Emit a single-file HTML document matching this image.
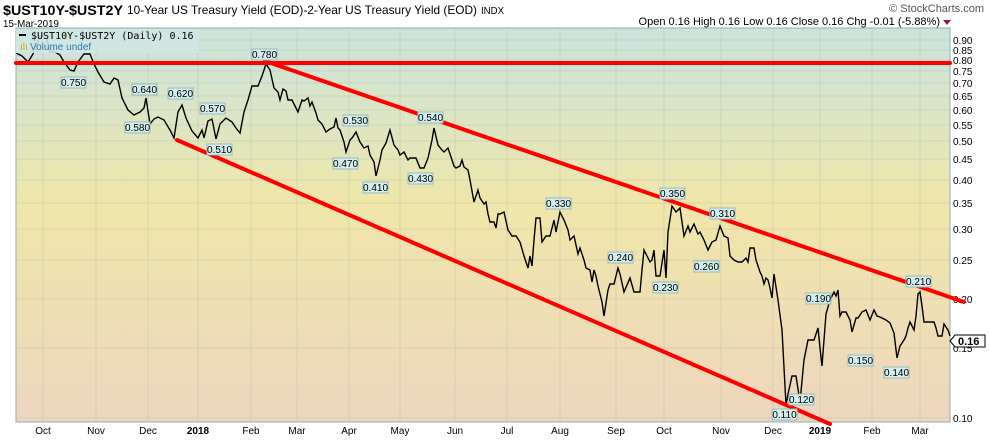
<!DOCTYPE html>
<html><head><meta charset="utf-8"><style>
body{margin:0;background:#fff;width:990px;height:438px;overflow:hidden;font-family:"Liberation Sans",sans-serif}
</style></head><body>
<svg width="990" height="438" xmlns="http://www.w3.org/2000/svg" font-family="Liberation Sans, sans-serif">
<defs>
<linearGradient id="bg" x1="0" y1="0" x2="0" y2="1">
<stop offset="0" stop-color="#c9e4de"/>
<stop offset="0.45" stop-color="#f0e6a9"/>
<stop offset="1" stop-color="#eed6bf"/>
</linearGradient>
</defs>
<text x="3" y="15" font-size="14" font-weight="bold" textLength="120" lengthAdjust="spacingAndGlyphs">$UST10Y-$UST2Y</text>
<text x="127" y="14" font-size="12" textLength="350" lengthAdjust="spacingAndGlyphs">10-Year US Treasury Yield (EOD)-2-Year US Treasury Yield (EOD)</text>
<text x="481" y="14" font-size="10" textLength="23" lengthAdjust="spacingAndGlyphs">INDX</text>
<text x="3" y="27" font-size="10" textLength="56" lengthAdjust="spacingAndGlyphs">15-Mar-2019</text>
<text x="984" y="12" font-size="11" fill="#555" text-anchor="end">© StockCharts.com</text>
<text x="940" y="25" font-size="11" text-anchor="end">Open 0.16  High 0.16  Low 0.16  Close 0.16  Chg -0.01 (-5.88%)</text>
<polygon points="943,20 951,20 947,25" fill="#8b1a3a"/>
<rect x="16" y="28" width="934" height="394" fill="url(#bg)" stroke="#8fb0b0"/>
<g stroke="#a8b8a8" stroke-width="0.6" opacity="0.6">
<line x1="16" x2="950" y1="40" y2="40"/><line x1="16" x2="950" y1="50" y2="50"/><line x1="16" x2="950" y1="60" y2="60"/><line x1="16" x2="950" y1="71" y2="71"/><line x1="16" x2="950" y1="83" y2="83"/><line x1="16" x2="950" y1="96" y2="96"/><line x1="16" x2="950" y1="110" y2="110"/><line x1="16" x2="950" y1="125" y2="125"/><line x1="16" x2="950" y1="141" y2="141"/><line x1="16" x2="950" y1="159" y2="159"/><line x1="16" x2="950" y1="180" y2="180"/><line x1="16" x2="950" y1="203" y2="203"/><line x1="16" x2="950" y1="229" y2="229"/><line x1="16" x2="950" y1="260" y2="260"/><line x1="16" x2="950" y1="299" y2="299"/><line x1="16" x2="950" y1="348" y2="348"/><line x1="16" x2="950" y1="418" y2="418"/>
<line y1="28" y2="422" x1="43" x2="43"/><line y1="28" y2="422" x1="96" x2="96"/><line y1="28" y2="422" x1="148" x2="148"/><line y1="28" y2="422" x1="198" x2="198"/><line y1="28" y2="422" x1="251" x2="251"/><line y1="28" y2="422" x1="297" x2="297"/><line y1="28" y2="422" x1="349" x2="349"/><line y1="28" y2="422" x1="400" x2="400"/><line y1="28" y2="422" x1="455" x2="455"/><line y1="28" y2="422" x1="507" x2="507"/><line y1="28" y2="422" x1="560" x2="560"/><line y1="28" y2="422" x1="616" x2="616"/><line y1="28" y2="422" x1="664" x2="664"/><line y1="28" y2="422" x1="721" x2="721"/><line y1="28" y2="422" x1="773" x2="773"/><line y1="28" y2="422" x1="820" x2="820"/><line y1="28" y2="422" x1="872" x2="872"/><line y1="28" y2="422" x1="920" x2="920"/>
</g>
<g font-size="10" fill="#000">
<text x="953" y="44">0.90</text><text x="953" y="54">0.85</text><text x="953" y="64">0.80</text><text x="953" y="75">0.75</text><text x="953" y="87">0.70</text><text x="953" y="100">0.65</text><text x="953" y="114">0.60</text><text x="953" y="129">0.55</text><text x="953" y="145">0.50</text><text x="953" y="163">0.45</text><text x="953" y="184">0.40</text><text x="953" y="207">0.35</text><text x="953" y="233">0.30</text><text x="953" y="264">0.25</text><text x="953" y="303">0.20</text><text x="953" y="352">0.15</text><text x="953" y="422">0.10</text>
</g>
<g font-size="10" text-anchor="middle">
<text x="43" y="434">Oct</text><text x="96" y="434">Nov</text><text x="148" y="434">Dec</text><text x="198" y="434" font-weight="bold">2018</text><text x="251" y="434">Feb</text><text x="297" y="434">Mar</text><text x="349" y="434">Apr</text><text x="400" y="434">May</text><text x="455" y="434">Jun</text><text x="507" y="434">Jul</text><text x="560" y="434">Aug</text><text x="616" y="434">Sep</text><text x="664" y="434">Oct</text><text x="721" y="434">Nov</text><text x="773" y="434">Dec</text><text x="820" y="434" font-weight="bold">2019</text><text x="872" y="434">Feb</text><text x="920" y="434">Mar</text>
</g>
<polyline fill="none" stroke="#000" stroke-width="1.4" points="16,53 22,56 28,62 33,54 36,46 40,36 46,36 50,52 55,52 60,55 64,62 70,70 74,71 78,62 84,54 90,54 94,64 98,72 104,82 110,84 114,78 118,80 122,98 128,110 134,115 140,112 144,108 146,98 150,124 154,119 158,117 164,120 170,130 174,138 178,112 182,105 186,118 192,131 198,138 202,130 204,138 208,121 212,119 216,139 220,124 226,118 232,122 236,128 240,133 244,112 248,100 252,86 258,86 262,76 266,64 270,70 274,88 278,92 280,100 283,89 286,91 288,100 292,100 296,108 298,112 302,100 304,101 308,98 310,106 312,102 316,113 318,120 322,124 326,132 330,129 334,127 336,118 338,128 340,130 344,142 346,152 350,140 352,138 356,132 360,142 364,148 368,146 370,155 374,162 376,176 380,160 382,150 386,143 390,130 394,145 398,150 400,155 404,152 408,160 410,158 416,158 420,168 424,168 428,158 432,140 434,128 438,145 442,150 444,152 448,148 452,160 454,166 456,168 460,166 462,160 464,167 468,170 470,180 474,202 478,190 480,198 484,204 486,202 488,214 490,222 494,222 496,228 498,214 500,214 504,212 508,230 512,236 516,236 520,242 524,256 528,268 530,256 532,266 534,240 536,218 540,218 542,242 546,236 550,236 554,220 556,232 560,212 564,220 568,230 570,240 574,236 578,254 580,248 584,260 586,268 590,270 592,282 594,270 596,276 598,286 602,302 604,316 608,290 610,284 614,284 618,268 620,274 624,292 630,278 634,292 640,292 642,270 644,250 646,254 650,262 652,260 654,250 656,276 660,276 664,250 666,278 668,232 672,206 676,212 680,208 684,236 688,226 690,232 694,224 698,234 700,232 704,240 708,250 712,242 716,240 720,226 724,236 728,238 730,256 734,260 738,262 742,262 746,258 748,262 750,248 754,248 756,260 760,272 762,276 764,284 766,278 768,280 770,288 772,298 774,274 778,300 782,330 786,405 788,394 792,376 796,376 800,402 804,360 808,340 814,340 818,328 820,348 822,366 826,314 830,300 834,292 836,296 838,290 840,316 842,312 846,312 850,320 852,332 856,318 858,318 862,312 866,310 870,320 874,310 877,316 880,317 886,320 890,323 894,333 897,358 900,346 904,340 906,336 908,328 910,322 914,330 916,316 918,294 920,292 922,306 924,322 930,322 934,322 936,328 938,336 942,336 944,324 948,330 950,336"/>
<g stroke="#ff0000" stroke-width="4" stroke-linecap="round">
<line x1="16" y1="63" x2="950" y2="63"/>
<line x1="265" y1="61" x2="964" y2="302"/>
<line x1="177" y1="140" x2="830" y2="424"/>
</g>
<g font-size="10" text-anchor="middle">
<g><rect x="61" y="77" width="25" height="11" fill="#d4eeee" stroke="#9bb"/><text x="73.5" y="86">0.750</text></g>
<g><rect x="132" y="84" width="25" height="11" fill="#d4eeee" stroke="#9bb"/><text x="144.5" y="93">0.640</text></g>
<g><rect x="125" y="122" width="25" height="11" fill="#d4eeee" stroke="#9bb"/><text x="137.5" y="131">0.580</text></g>
<g><rect x="168" y="88" width="25" height="11" fill="#d4eeee" stroke="#9bb"/><text x="180.5" y="97">0.620</text></g>
<g><rect x="200" y="103" width="25" height="11" fill="#d4eeee" stroke="#9bb"/><text x="212.5" y="112">0.570</text></g>
<g><rect x="207" y="144" width="25" height="11" fill="#d4eeee" stroke="#9bb"/><text x="219.5" y="153">0.510</text></g>
<g><rect x="252" y="49" width="25" height="11" fill="#d4eeee" stroke="#9bb"/><text x="264.5" y="58">0.780</text></g>
<g><rect x="343" y="115" width="25" height="11" fill="#d4eeee" stroke="#9bb"/><text x="355.5" y="124">0.530</text></g>
<g><rect x="333" y="158" width="25" height="11" fill="#d4eeee" stroke="#9bb"/><text x="345.5" y="167">0.470</text></g>
<g><rect x="363" y="182" width="25" height="11" fill="#d4eeee" stroke="#9bb"/><text x="375.5" y="191">0.410</text></g>
<g><rect x="408" y="173" width="25" height="11" fill="#d4eeee" stroke="#9bb"/><text x="420.5" y="182">0.430</text></g>
<g><rect x="418" y="112" width="25" height="11" fill="#d4eeee" stroke="#9bb"/><text x="430.5" y="121">0.540</text></g>
<g><rect x="546" y="198" width="25" height="11" fill="#d4eeee" stroke="#9bb"/><text x="558.5" y="207">0.330</text></g>
<g><rect x="608" y="252" width="25" height="11" fill="#d4eeee" stroke="#9bb"/><text x="620.5" y="261">0.240</text></g>
<g><rect x="653" y="282" width="25" height="11" fill="#d4eeee" stroke="#9bb"/><text x="665.5" y="291">0.230</text></g>
<g><rect x="660" y="188" width="25" height="11" fill="#d4eeee" stroke="#9bb"/><text x="672.5" y="197">0.350</text></g>
<g><rect x="710" y="208" width="25" height="11" fill="#d4eeee" stroke="#9bb"/><text x="722.5" y="217">0.310</text></g>
<g><rect x="694" y="261" width="25" height="11" fill="#d4eeee" stroke="#9bb"/><text x="706.5" y="270">0.260</text></g>
<g><rect x="772" y="409" width="25" height="11" fill="#d4eeee" stroke="#9bb"/><text x="784.5" y="418">0.110</text></g>
<g><rect x="789" y="394" width="25" height="11" fill="#d4eeee" stroke="#9bb"/><text x="801.5" y="403">0.120</text></g>
<g><rect x="806" y="293" width="25" height="11" fill="#d4eeee" stroke="#9bb"/><text x="818.5" y="302">0.190</text></g>
<g><rect x="848" y="355" width="25" height="11" fill="#d4eeee" stroke="#9bb"/><text x="860.5" y="364">0.150</text></g>
<g><rect x="884" y="367" width="25" height="11" fill="#d4eeee" stroke="#9bb"/><text x="896.5" y="376">0.140</text></g>
<g><rect x="906" y="276" width="25" height="11" fill="#d4eeee" stroke="#9bb"/><text x="918.5" y="285">0.210</text></g>
</g>
<rect x="16" y="29" width="183" height="24" fill="#cfe6e2" opacity="0.9"/>
<line x1="19" y1="35" x2="26" y2="35" stroke="#000" stroke-width="2"/>
<text x="31" y="39" font-size="10" font-family="DejaVu Sans Mono, monospace">$UST10Y-$UST2Y (Daily) 0.16</text>
<text x="20" y="50" font-size="10" fill="#e0a020">ılı</text>
<text x="30" y="50" font-size="10" fill="#2a7ab8">Volume undef</text>
<polygon points="950,341 955,335 985,335 985,347 955,347" fill="#fff" stroke="#000"/>
<text x="958" y="345" font-size="11" font-weight="bold">0.16</text>
</svg>
</body></html>
